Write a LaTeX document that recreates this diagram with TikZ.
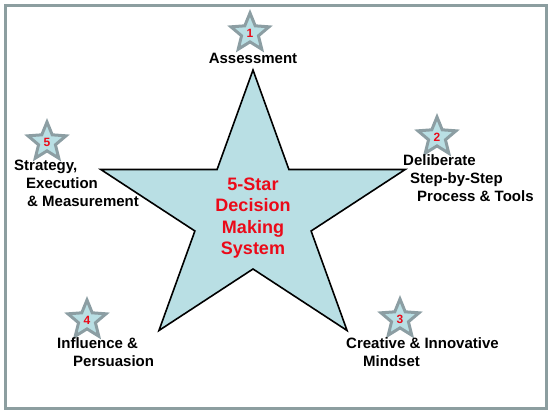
\documentclass[tikz,border=0pt]{standalone}
\usepackage{fontspec}
\setmainfont{Liberation Sans}
\usetikzlibrary{shapes.geometric}
\definecolor{starfill}{RGB}{185,223,228}
\definecolor{framegray}{RGB}{140,158,160}
\definecolor{badgegray}{RGB}{140,158,163}
\definecolor{numred}{RGB}{235,10,25}

\begin{document}
\begin{tikzpicture}[x=1pt,y=-1pt,
    badge/.style={star,star points=5,star point ratio=2.25,minimum size=40pt,inner sep=0pt,
      fill=starfill,draw=badgegray,line width=3pt,
      font=\fontsize{12}{12}\selectfont\bfseries,text=numred},
    lbl/.style={font=\fontsize{15}{18}\selectfont\bfseries,align=left,inner sep=0pt}]
    \useasboundingbox (0,0) rectangle (552,413);
    \draw[framegray,line width=3pt] (5,5) rectangle (546,408);
    % big star
    \draw[fill=starfill,line width=1.6pt,shift={(253,214)},yscale=-0.9]
      (90:160) \foreach \a in {0,...,3} { -- ({126+72*\a}:61.1) -- ({162+72*\a}:160) }
      -- (414:61.1) -- cycle;
    \node[font=\fontsize{18}{21.5}\selectfont\bfseries,text=numred,align=center] (core)
      at (253,218) {5-Star\\Decision\\Making\\System};
    % numbered badges
    \foreach \n/\x/\y in {1/250/33,2/437/137,3/400/319,4/87/320,5/47/142}
      \node[badge] (badge\n) at (\x,\y) {\n};
    \node[lbl] (assess) at (253,58) {Assessment};
    \node[lbl,anchor=west] (tools) at (403,178)
      {Deliberate\\\hspace*{7pt}Step-by-Step\\\hspace*{14pt}Process \& Tools};
    \node[lbl,anchor=west] (mindset) at (346,352)
      {Creative \& Innovative\\\hspace*{17pt}Mindset};
    \node[lbl,anchor=west] (persuade) at (57,352.5)
      {Influence \&\\\hspace*{16pt}Persuasion};
    \node[lbl,anchor=west] (strategy) at (14,183)
      {Strategy,\\\hspace*{12pt}Execution\\\hspace*{13pt}\& Measurement};
\end{tikzpicture}
\end{document}
